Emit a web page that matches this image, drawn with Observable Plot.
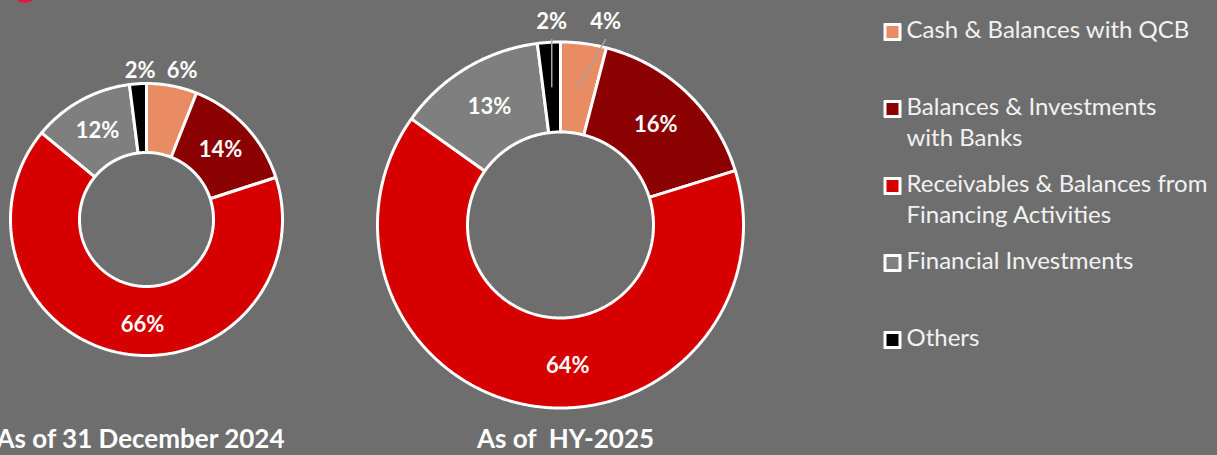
<!DOCTYPE html>
<html>
<head>
<meta charset="utf-8">
<script src="https://cdn.jsdelivr.net/npm/d3@7"></script>
<script src="https://cdn.jsdelivr.net/npm/@observablehq/plot@0.6"></script>
<style>
  html, body { margin: 0; padding: 0; background: #6e6e6e; overflow: hidden; }
  #chart { position: relative; width: 1217px; height: 455px; overflow: hidden; }
  #chart svg { position: absolute; left: 0; top: 0; }
  .logo { position: absolute; left: 11px; top: -25px; width: 28px; height: 28px; border-radius: 50%; background: #e0183a; }
</style>
</head>
<body>
<div id="chart"><div class="logo"></div></div>
<script>
// ---- data ----
const categories = [
  "Cash & Balances with QCB",
  "Balances & Investments with Banks",
  "Receivables & Balances from Financing Activities",
  "Financial Investments",
  "Others"
];
const legendLabels = [
  "Cash & Balances with QCB",
  "Balances & Investments\nwith Banks",
  "Receivables & Balances from\nFinancing Activities",
  "Financial Investments",
  "Others"
];
const colors = ["#e98b63", "#8b0000", "#d60000", "#7f7f7f", "#000000"];
const valuesDec2024 = [6, 14, 66, 12, 2];
const valuesHY2025 = [4, 16, 64, 13, 2];
const chartTitles = ["As of 31 December 2024", "As of  HY-2025"];

// ---- layout (not data) ----
const layout = [
  {values: valuesDec2024, title: chartTitles[0], cx: 146, cy: 219, R: 136, r: 67, gap: 42, lift: 13, leader: false, nudge: {2: [15, 6]}, titleDx: -6},
  {values: valuesHY2025, title: chartTitles[1], cx: 560, cy: 224.5, R: 183, r: 93, gap: 54, lift: 20, leader: true, nudge: {2: [29, 5]}, titleDx: 5}
];

const pt = (c, rad, a) => [c.cx + rad * Math.sin(a), c.cy - rad * Math.cos(a)];

const slices = [], labels = [], leaders = [], titles = [];
for (const c of layout) {
  const arcs = d3.pie().sort(null).value(d => d)(c.values);
  const outside = [];
  arcs.forEach((a, i) => {
    const n = Math.max(2, Math.ceil((a.endAngle - a.startAngle) / (Math.PI / 360)));
    const ring = [];
    for (let k = 0; k <= n; k++) ring.push(pt(c, c.R, a.startAngle + (a.endAngle - a.startAngle) * k / n));
    for (let k = n; k >= 0; k--) ring.push(pt(c, c.r, a.startAngle + (a.endAngle - a.startAngle) * k / n));
    ring.push(ring[0]);
    slices.push({type: "Feature", properties: {category: categories[i]}, geometry: {type: "Polygon", coordinates: [ring]}});
    const mid = (a.startAngle + a.endAngle) / 2;
    const cen = pt(c, (c.R + c.r) / 2, mid);
    const txt = c.values[i] + "%";
    if (c.values[i] < 8) {
      outside.push({text: txt, x: cen[0], y: c.cy - c.R - c.lift, cen, mid: mid > Math.PI ? mid - 2 * Math.PI : mid});
    } else {
      const nd = c.nudge[i] || [0, 0];
      labels.push({text: txt, x: cen[0] + nd[0], y: cen[1] + nd[1]});
    }
  });
  outside.sort((p, q) => p.mid - q.mid);
  for (let k = 1; k < outside.length; k++) {
    if (outside[k].x - outside[k - 1].x < c.gap) outside[k].x = outside[k - 1].x + c.gap;
  }
  for (const o of outside) {
    labels.push({text: o.text, x: o.x, y: o.y});
    if (c.leader) leaders.push({x1: o.x, y1: o.y + 17, x2: o.cen[0], y2: o.cen[1]});
  }
  titles.push({text: c.title, x: c.cx + c.titleDx, y: 439});
}

const legend = categories.map((cat, i) => ({category: cat, label: legendLabels[i], x: 892, y: 31.5 + i * 77}));

const plot = Plot.plot({
  width: 1217,
  height: 455,
  margin: 0,
  projection: {type: "identity"},
  color: {domain: categories, range: colors},
  style: {background: "transparent", fontFamily: "Lato, 'Open Sans', sans-serif", overflow: "visible"},
  marks: [
    Plot.geo(slices, {fill: d => d.properties.category, stroke: "white", strokeWidth: 3, strokeLinejoin: "miter"}),
    Plot.link(leaders, {x1: "x1", y1: "y1", x2: "x2", y2: "y2", curve: "linear", stroke: "#a6a6a6", strokeWidth: 1.5}),
    Plot.text(labels, {x: "x", y: "y", text: "text", fill: "white", fontSize: 22, fontWeight: "bold"}),
    Plot.text(titles, {x: "x", y: "y", text: "text", fill: "white", fontSize: 26, fontWeight: "bold"}),
    Plot.dot(legend, {x: "x", y: "y", symbol: "square", r: 9.03, fill: "white", stroke: "white", strokeWidth: 2, strokeLinejoin: "round"}),
    Plot.dot(legend, {x: "x", y: "y", symbol: "square", r: 6.77, fill: "category"}),
    Plot.text(legend, {x: "x", y: "y", dx: 14, dy: -16, text: "label", textAnchor: "start", lineAnchor: "top", lineHeight: 1.3, fill: "#f2f2f2", fontSize: 24})
  ]
});
document.getElementById("chart").appendChild(plot);
</script>
</body>
</html>
